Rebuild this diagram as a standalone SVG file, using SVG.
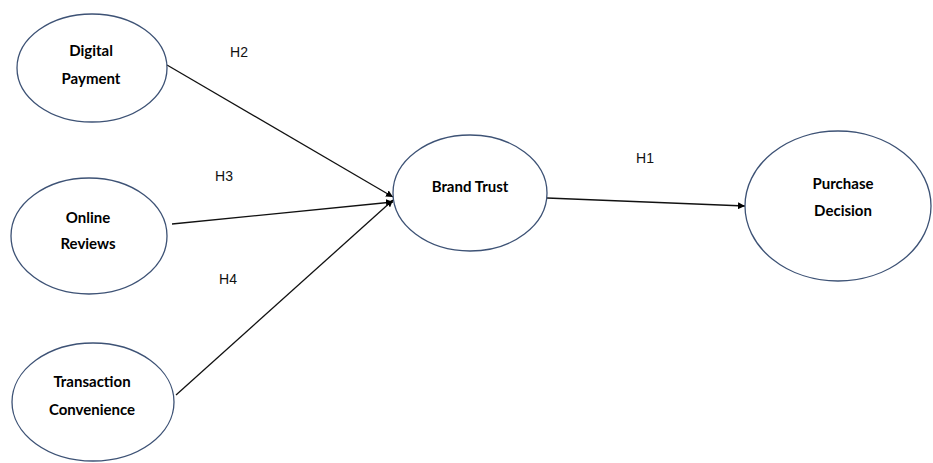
<svg xmlns="http://www.w3.org/2000/svg" width="933" height="463" viewBox="0 0 933 463">
<defs>
<marker id="ah" viewBox="0 0 10 10" refX="10" refY="5" markerWidth="7" markerHeight="7" orient="auto" markerUnits="userSpaceOnUse">
<path d="M0,0 L10,5 L0,10 z" fill="#000"/>
</marker>
</defs>
<style>
.node ellipse{fill:#fff;stroke:#3d5275;stroke-width:1.3}
.node text{font-family:Lato,"Liberation Sans",sans-serif;font-weight:bold;font-size:15px;fill:#000;text-anchor:middle}
.edge{stroke:#111;stroke-width:1.3;fill:none;marker-end:url(#ah)}
.lbl{font-family:"Liberation Sans",Arial,sans-serif;font-size:14px;fill:#111;text-anchor:middle}
</style>
<rect width="933" height="463" fill="#fff"/>
<g id="connectors">
<line class="edge" x1="167" y1="65" x2="393" y2="197"/>
<line class="edge" x1="172" y1="224" x2="393" y2="202"/>
<line class="edge" x1="176" y1="395" x2="393" y2="200"/>
<line class="edge" x1="547" y1="198" x2="745" y2="206"/>
<text class="lbl" x="239" y="57">H2</text>
<text class="lbl" x="224" y="181">H3</text>
<text class="lbl" x="228" y="284">H4</text>
<text class="lbl" x="645" y="163">H1</text>
</g>
<g id="digital-payment" class="node">
<ellipse cx="92" cy="68" rx="75" ry="54"/>
<text x="91" y="56">Digital</text>
<text x="91" y="84">Payment</text>
</g>
<g id="online-reviews" class="node">
<ellipse cx="89" cy="236" rx="78" ry="58"/>
<text x="88" y="223">Online</text>
<text x="88" y="249">Reviews</text>
</g>
<g id="transaction-convenience" class="node">
<ellipse cx="93" cy="402" rx="81" ry="59"/>
<text x="92" y="387">Transaction</text>
<text x="92" y="415">Convenience</text>
</g>
<g id="brand-trust" class="node">
<ellipse cx="470" cy="193" rx="77" ry="58"/>
<text x="470" y="192">Brand Trust</text>
</g>
<g id="purchase-decision" class="node">
<ellipse cx="838" cy="206" rx="93" ry="75"/>
<text x="843" y="189">Purchase</text>
<text x="843" y="216">Decision</text>
</g>
</svg>
